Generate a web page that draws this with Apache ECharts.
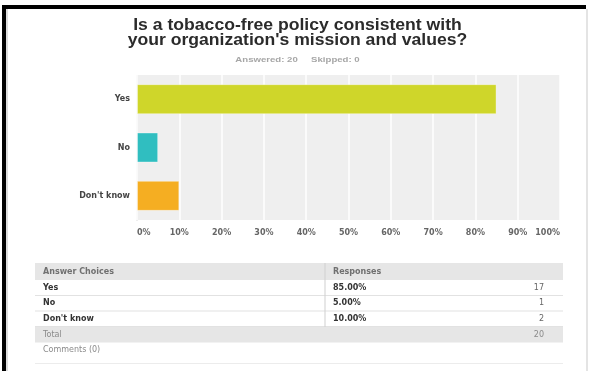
<!DOCTYPE html>
<html>
<head>
<meta charset="utf-8">
<title>Tobacco-free policy survey</title>
<script src="https://cdn.jsdelivr.net/npm/echarts@6/dist/echarts.min.js"></script>
<style>
  html, body { margin: 0; padding: 0; background: #ffffff; }
  #chart { width: 590px; height: 371px; }
</style>
</head>
<body>
<div id="chart"></div>
<script>
// Survey question and answers
const questionLines = ["Is a tobacco-free policy consistent with", "your organization's mission and values?"];
const answeredCount = 20;
const skippedCount = 0;
const categories = ["Yes", "No", "Don't know"];
const percentValues = [85, 5, 10];
const responseCounts = [17, 1, 2];
const barColors = ["#cfd62a", "#30bec0", "#f5ae22"];
const tickValues = [0, 10, 20, 30, 40, 50, 60, 70, 80, 90, 100];
const commentCount = 0;

const TITLE_FONT = "'Liberation Sans', Arial, Helvetica, sans-serif";
const FONT = "'DejaVu Sans', Verdana, sans-serif";
const chart = echarts.init(document.getElementById('chart'), null, { renderer: 'canvas' });

// Frame and plot edge
const graphics = [
  { type: 'rect', shape: { x: 2, y: 5, width: 584, height: 4 }, style: { fill: '#000' }, z: 0 },
  { type: 'rect', shape: { x: 2, y: 5, width: 4, height: 366 }, style: { fill: '#000' }, z: 0 },
  { type: 'rect', shape: { x: 6, y: 9, width: 2, height: 362 }, style: { fill: '#dcdcdc' }, z: 0 },
  { type: 'rect', shape: { x: 586, y: 9, width: 2, height: 362 }, style: { fill: '#e4e4e4' }, z: 0 },
  { type: 'rect', shape: { x: 136.5, y: 75, width: 1, height: 146 }, style: { fill: '#dedede' }, z: 0 }
];

// Question title (two lines, slightly widened) and answered/skipped summary
const titleCenterX = 297.5;
const titleRows = [25.5, 40.5];
questionLines.forEach(function (line, i) {
  graphics.push({
    type: 'text', x: titleCenterX, y: titleRows[i], scaleX: 1.1, originX: 0, originY: 0,
    style: { text: line, fontFamily: TITLE_FONT, fontSize: 16, fontWeight: 'bold', fill: '#2b2b2b', align: 'center', verticalAlign: 'middle' }
  });
});
graphics.push({
  type: 'text', x: titleCenterX, y: 59.5, scaleX: 1.2, originX: 0, originY: 0,
  style: { text: 'Answered: ' + answeredCount + '     Skipped: ' + skippedCount, fontFamily: TITLE_FONT, fontSize: 8, fontWeight: 'bold', fill: '#a6a6a6', align: 'center', verticalAlign: 'middle' }
});

// Summary table
const tLeft = 35, tRight = 563, tDiv = 324.5, numRight = 544;
const textBase = { fontFamily: FONT, fontSize: 8, verticalAlign: 'middle' };
graphics.push({ type: 'rect', shape: { x: tLeft, y: 263, width: tRight - tLeft, height: 17 }, style: { fill: '#e6e6e6' } });
graphics.push({ type: 'text', x: 43, y: 271.7, style: Object.assign({}, textBase, { text: 'Answer Choices', fill: '#707070', fontWeight: 'bold' }) });
graphics.push({ type: 'text', x: 333, y: 271.7, style: Object.assign({}, textBase, { text: 'Responses', fill: '#707070', fontWeight: 'bold' }) });
const rowTop = 280, rowH = 15.5;
categories.forEach(function (c, i) {
  const yMid = rowTop + rowH * i + rowH / 2;
  graphics.push({ type: 'text', x: 43, y: yMid, style: Object.assign({}, textBase, { text: c, fill: '#333', fontWeight: 'bold' }) });
  graphics.push({ type: 'text', x: 333, y: yMid, style: Object.assign({}, textBase, { text: percentValues[i].toFixed(2) + '%', fill: '#333', fontWeight: 'bold' }) });
  graphics.push({ type: 'text', x: numRight, y: yMid, style: Object.assign({}, textBase, { text: String(responseCounts[i]), fill: '#666', align: 'right' }) });
  graphics.push({ type: 'rect', shape: { x: tLeft, y: rowTop + rowH * (i + 1) - 0.5, width: tRight - tLeft, height: 1 }, style: { fill: '#e2e2e2' } });
});
const totalTop = rowTop + rowH * categories.length + 0.5;
graphics.push({ type: 'rect', shape: { x: tDiv, y: 263, width: 1, height: totalTop - 263 }, style: { fill: '#cfcfcf' } });
graphics.push({ type: 'rect', shape: { x: tLeft, y: totalTop, width: tRight - tLeft, height: 15.5 }, style: { fill: '#e6e6e6' } });
graphics.push({ type: 'text', x: 43, y: totalTop + 8, style: Object.assign({}, textBase, { text: 'Total', fill: '#8a8a8a' }) });
graphics.push({ type: 'text', x: numRight, y: totalTop + 8, style: Object.assign({}, textBase, { text: String(answeredCount), fill: '#8a8a8a', align: 'right' }) });
graphics.push({ type: 'text', x: 43, y: 349.5, style: Object.assign({}, textBase, { text: 'Comments (' + commentCount + ')', fill: '#8a8a8a' }) });
graphics.push({ type: 'rect', shape: { x: tLeft, y: 363, width: tRight - tLeft, height: 1 }, style: { fill: '#ececec' } });

const option = {
  animation: false,
  backgroundColor: '#ffffff',
  grid: { left: 137, top: 75, width: 423, height: 145, containLabel: false, show: true, backgroundColor: '#efefef', borderWidth: 0 },
  xAxis: {
    type: 'value',
    min: tickValues[0],
    max: tickValues[tickValues.length - 1],
    interval: tickValues[1] - tickValues[0],
    axisLine: { show: false },
    axisTick: { show: false },
    splitLine: { show: true, lineStyle: { color: '#ffffff', width: 1.5 } },
    axisLabel: {
      formatter: '{value}%',
      fontFamily: FONT, fontSize: 8, fontWeight: 'bold', color: '#666',
      margin: 9,
      alignMinLabel: 'left',
      alignMaxLabel: 'right'
    }
  },
  yAxis: {
    type: 'category',
    data: categories,
    inverse: true,
    axisLine: { show: false },
    axisTick: { show: false },
    splitLine: { show: false },
    axisLabel: { fontFamily: FONT, fontSize: 8, fontWeight: 'bold', color: '#444', margin: 7 }
  },
  series: [{
    type: 'bar',
    data: percentValues.map(function (v, i) {
      return { value: v, itemStyle: { color: barColors[i] } };
    }),
    barWidth: 30,
    itemStyle: { borderColor: 'rgba(255,255,255,0.35)', borderWidth: 1 }
  }],
  graphic: graphics
};

chart.setOption(option);
</script>
</body>
</html>
